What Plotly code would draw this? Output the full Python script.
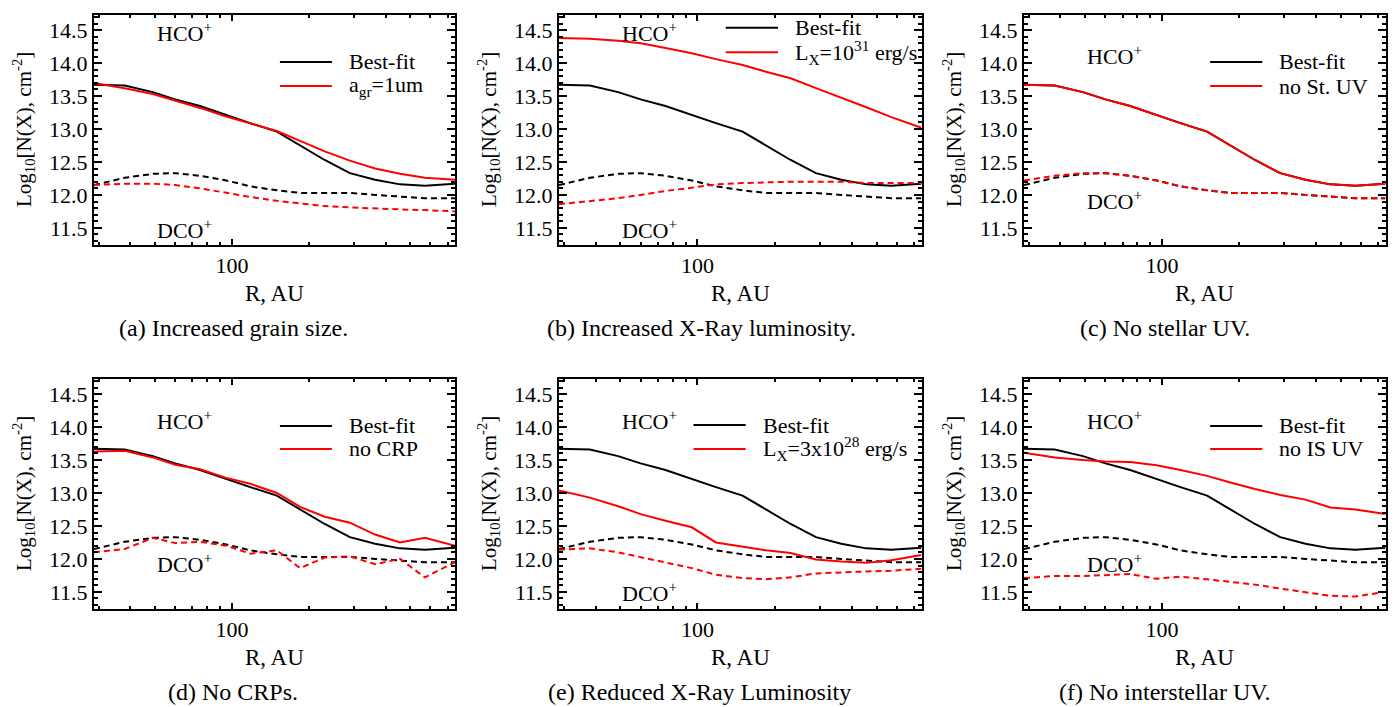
import math
import plotly.graph_objects as go

# ---------------- data ----------------
R_AU = [28.8, 38, 49, 60, 75, 95, 118, 150, 185, 231, 290, 364, 456, 571, 749]

BESTFIT_HCO = [13.67, 13.66, 13.56, 13.45, 13.35, 13.21, 13.09, 12.96, 12.75, 12.53, 12.33, 12.23, 12.16, 12.14, 12.17]
BESTFIT_DCO = [12.15, 12.26, 12.32, 12.33, 12.29, 12.22, 12.13, 12.07, 12.03, 12.03, 12.03, 12.00, 11.97, 11.95, 11.95]

MODEL_LABELS = [
    "a<sub>gr</sub>=1um",
    "L<sub>X</sub>=10<sup>31</sup> erg/s",
    "no St. UV",
    "no CRP",
    "L<sub>X</sub>=3x10<sup>28</sup> erg/s",
    "no IS UV",
]

MODEL_HCO = [
    [13.70, 13.62, 13.53, 13.43, 13.32, 13.19, 13.08, 12.97, 12.82, 12.66, 12.52, 12.40, 12.32, 12.26, 12.23],
    [14.38, 14.37, 14.34, 14.30, 14.23, 14.15, 14.06, 13.97, 13.87, 13.77, 13.62, 13.48, 13.33, 13.18, 13.02],
    [13.67, 13.66, 13.56, 13.45, 13.35, 13.21, 13.09, 12.96, 12.75, 12.53, 12.33, 12.23, 12.16, 12.14, 12.17],
    [13.63, 13.64, 13.54, 13.43, 13.36, 13.23, 13.14, 13.00, 12.79, 12.64, 12.55, 12.37, 12.25, 12.32, 12.20],
    [13.04, 12.93, 12.80, 12.68, 12.58, 12.48, 12.25, 12.19, 12.13, 12.09, 11.99, 11.96, 11.94, 11.98, 12.06],
    [13.61, 13.54, 13.50, 13.48, 13.47, 13.42, 13.35, 13.26, 13.16, 13.06, 12.97, 12.90, 12.78, 12.75, 12.68],
]
MODEL_DCO = [
    [12.15, 12.17, 12.17, 12.15, 12.10, 12.03, 11.97, 11.91, 11.87, 11.83, 11.81, 11.79, 11.78, 11.77, 11.75],
    [11.86, 11.91, 11.95, 12.00, 12.06, 12.11, 12.16, 12.18, 12.19, 12.20, 12.20, 12.20, 12.18, 12.18, 12.18],
    [12.22, 12.29, 12.33, 12.33, 12.29, 12.22, 12.13, 12.07, 12.03, 12.03, 12.03, 12.00, 11.97, 11.95, 11.95],
    [12.10, 12.15, 12.32, 12.24, 12.26, 12.20, 12.08, 12.13, 11.86, 12.02, 12.04, 11.92, 12.00, 11.72, 11.95],
    [12.14, 12.16, 12.10, 12.03, 11.95, 11.86, 11.76, 11.71, 11.69, 11.72, 11.78, 11.80, 11.81, 11.82, 11.85],
    [11.71, 11.74, 11.74, 11.75, 11.77, 11.70, 11.73, 11.69, 11.65, 11.61, 11.55, 11.50, 11.44, 11.43, 11.50],
]

CAPTIONS = [
    "(a) Increased grain size.",
    "(b) Increased X-Ray luminosity.",
    "(c) No stellar UV.",
    "(d) No CRPs.",
    "(e) Reduced X-Ray Luminosity",
    "(f) No interstellar UV.",
]

X_MAJOR_TICKS = [100]
X_MINOR_TICKS = [30, 40, 50, 60, 70, 80, 90, 200, 300, 400, 500, 600, 700]
X_RANGE = [28.8, 749]
Y_RANGE = [11.24, 14.73]

# ---------------- layout geometry (pixels) ----------------
W, H = 1397, 707
COLS_PX = [(94, 455), (559, 921.5), (1024, 1385.5)]
ROWS_PX = [(15, 245), (379, 609)]

FONT = "Liberation Serif"
RED = "#ff0000"

# per-panel label positions in axis-domain fractions
HCO_Y = [0.926, 0.926, 0.826, 0.822, 0.822, 0.822]
DCO_Y = [0.070, 0.070, 0.196, 0.200, 0.074, 0.200]
LEG_POS = [  # x0, x1, y_black, y_red, x_text
    (0.515, 0.659, 0.796, 0.691, 0.700),
    (0.460, 0.604, 0.945, 0.838, 0.645),
    (0.515, 0.659, 0.796, 0.691, 0.700),
    (0.515, 0.659, 0.796, 0.696, 0.700),
    (0.371, 0.515, 0.800, 0.696, 0.557),
    (0.515, 0.659, 0.796, 0.696, 0.700),
]
CAPTION_X = [233, 701.5, 1164.5, 233, 699, 1165]

fig = go.Figure()
shapes = []
annotations = []
layout = {}

for i in range(6):
    r, c = divmod(i, 3)
    n = "" if i == 0 else str(i + 1)
    xname, yname = "x" + n, "y" + n
    x0p, x1p = COLS_PX[c]
    y0p, y1p = ROWS_PX[r]
    xdom = [x0p / W, x1p / W]
    ydom = [1 - y1p / H, 1 - y0p / H]

    fig.add_trace(go.Scatter(x=R_AU, y=BESTFIT_HCO, mode="lines", xaxis=xname, yaxis=yname,
                             line=dict(color="black", width=2), showlegend=False))
    fig.add_trace(go.Scatter(x=R_AU, y=BESTFIT_DCO, mode="lines", xaxis=xname, yaxis=yname,
                             line=dict(color="black", width=2, dash="6px,4px"), showlegend=False))
    fig.add_trace(go.Scatter(x=R_AU, y=MODEL_HCO[i], mode="lines", xaxis=xname, yaxis=yname,
                             line=dict(color=RED, width=2), showlegend=False))
    fig.add_trace(go.Scatter(x=R_AU, y=MODEL_DCO[i], mode="lines", xaxis=xname, yaxis=yname,
                             line=dict(color=RED, width=2, dash="6px,4px"), showlegend=False))

    layout["xaxis" + n] = dict(
        type="log", domain=xdom, anchor=yname,
        range=[math.log10(X_RANGE[0]), math.log10(X_RANGE[1])],
        showline=True, linewidth=2, linecolor="black", mirror="allticks",
        ticks="inside", ticklen=6, tickwidth=1.5, tickcolor="black",
        tickvals=X_MAJOR_TICKS, ticktext=[str(v) for v in X_MAJOR_TICKS],
        tickfont=dict(family=FONT, size=22, color="black"),
        showgrid=False, zeroline=False,
        minor=dict(ticks="inside", ticklen=3, tickwidth=1.5, tickcolor="black",
                   tickvals=X_MINOR_TICKS, showgrid=False),
    )
    layout["yaxis" + n] = dict(
        domain=ydom, anchor=xname, range=Y_RANGE,
        tick0=11.5, dtick=0.5, tickformat=".1f",
        showline=True, linewidth=2, linecolor="black", mirror="allticks",
        ticks="inside", ticklen=8, tickwidth=1.5, tickcolor="black",
        tickfont=dict(family=FONT, size=22, color="black"),
        showgrid=False, zeroline=False,
        minor=dict(ticks="inside", ticklen=4, tickwidth=1.5, tickcolor="black",
                   dtick=0.1, tick0=11.5, showgrid=False),
    )

    xd, yd = xname + " domain", yname + " domain"
    # species labels
    annotations.append(dict(text="HCO<sup>+</sup>", xref=xd, yref=yd, x=0.169, y=HCO_Y[i],
                            xanchor="left", yanchor="middle", showarrow=False,
                            font=dict(family=FONT, size=22, color="black")))
    annotations.append(dict(text="DCO<sup>+</sup>", xref=xd, yref=yd, x=0.169, y=DCO_Y[i],
                            xanchor="left", yanchor="middle", showarrow=False,
                            font=dict(family=FONT, size=22, color="black")))
    # legend
    lx0, lx1, lyb, lyr, ltx = LEG_POS[i]
    shapes.append(dict(type="line", xref=xd, yref=yd, x0=lx0, x1=lx1, y0=lyb, y1=lyb,
                       line=dict(color="black", width=2)))
    shapes.append(dict(type="line", xref=xd, yref=yd, x0=lx0, x1=lx1, y0=lyr, y1=lyr,
                       line=dict(color=RED, width=2)))
    annotations.append(dict(text="Best-fit", xref=xd, yref=yd, x=ltx, y=lyb,
                            xanchor="left", yanchor="middle", showarrow=False,
                            font=dict(family=FONT, size=22, color="black")))
    annotations.append(dict(text=MODEL_LABELS[i], xref=xd, yref=yd, x=ltx, y=lyr,
                            xanchor="left", yanchor="middle", showarrow=False,
                            font=dict(family=FONT, size=22, color="black")))
    # axis titles
    annotations.append(dict(text="R, AU", xref="paper", yref="paper",
                            x=(x0p + x1p) / 2 / W, y=1 - (y1p + 48) / H,
                            xanchor="center", yanchor="middle", showarrow=False,
                            font=dict(family=FONT, size=23, color="black")))
    annotations.append(dict(text="Log<sub>10</sub>[N(X), cm<sup>-2</sup>]", xref="paper", yref="paper",
                            x=(x0p - 71) / W, y=1 - (y0p + y1p) / 2 / H, textangle=-90,
                            xanchor="center", yanchor="middle", showarrow=False,
                            font=dict(family=FONT, size=21, color="black")))
    # caption
    annotations.append(dict(text=CAPTIONS[i], xref="paper", yref="paper",
                            x=CAPTION_X[i] / W, y=1 - (y1p + 83) / H,
                            xanchor="center", yanchor="middle", showarrow=False,
                            font=dict(family=FONT, size=24, color="black")))

fig.update_layout(
    width=W, height=H,
    margin=dict(l=0, r=0, t=0, b=0),
    paper_bgcolor="white", plot_bgcolor="white",
    showlegend=False,
    shapes=shapes, annotations=annotations,
    **layout,
)

fig.write_html("out.html", config={"displayModeBar": False},
               post_script="document.body.style.margin='0';")
